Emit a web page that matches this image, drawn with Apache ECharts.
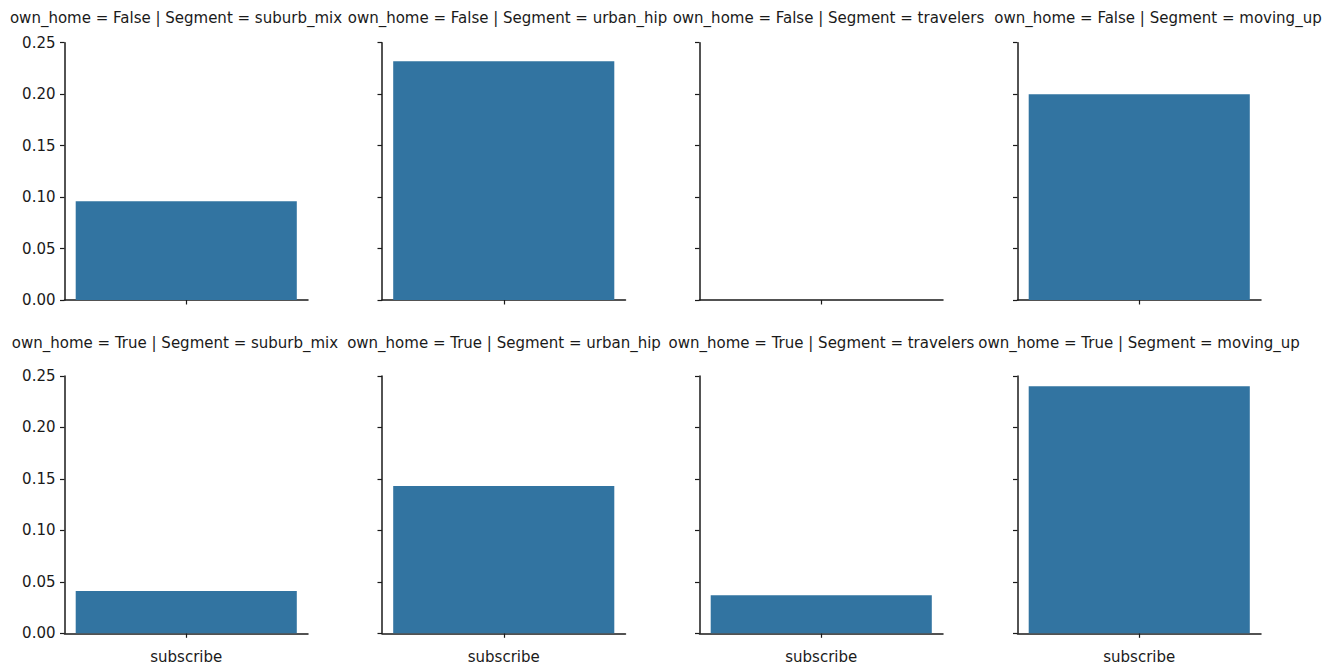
<!DOCTYPE html>
<html>
<head>
<meta charset="utf-8">
<script src="https://cdn.jsdelivr.net/npm/echarts@6/dist/echarts.min.js"></script>
<style>
  html, body { margin: 0; padding: 0; background: #fff; }
  #chart { width: 1337px; height: 665px; }
</style>
</head>
<body>
<div id="chart"></div>
<script>
// Facet rows and columns
const ownHome = ['False', 'True'];
const segments = ['suburb_mix', 'urban_hip', 'travelers', 'moving_up'];
const categories = ['subscribe'];

// Subscription rate per facet (row = own_home, column = Segment)
const rateFalse = [0.096, 0.232, 0.0, 0.200];
const rateTrue  = [0.041, 0.143, 0.037, 0.240];
const rates = [rateFalse, rateTrue];

// Y tick labels
const yTicks = ['0.00', '0.05', '0.10', '0.15', '0.20', '0.25'];

const FONT = 'DejaVu Sans';
const INK = '#1a1a1a';
const BAR = '#3274a1';

// Panel geometry
const colLeft = [64.5, 382, 699.5, 1017.5];
const panelW = 243.5;
const rowTop = [42.7, 376];
const panelH = 257.3;
// Facet title centres (long titles are nudged apart so they do not collide)
const titleX = [[176, 507.5, 828.5, 1158], [175, 504, 821.5, 1139]];
const titleY = [18, 343];

const grid = [], xAxis = [], yAxis = [], series = [], graphic = [];
let idx = 0;
for (let r = 0; r < ownHome.length; r++) {
  for (let c = 0; c < segments.length; c++) {
    grid.push({ left: colLeft[c], top: rowTop[r], width: panelW, height: panelH, containLabel: false });
    xAxis.push({
      type: 'category', gridIndex: idx, data: categories, boundaryGap: true,
      axisLine: { show: true, lineStyle: { color: INK, width: 1.5 } },
      axisTick: { show: true, alignWithLabel: true, length: 4.5, lineStyle: { color: INK, width: 1.2 } },
      axisLabel: { show: r === 1, fontFamily: FONT, fontSize: 15, color: INK, margin: 16 },
      splitLine: { show: false }
    });
    yAxis.push({
      type: 'value', gridIndex: idx, min: 0, max: 0.25, interval: 0.05,
      axisLine: { show: true, lineStyle: { color: INK, width: 1.5 } },
      axisTick: { show: true, length: 4.5, lineStyle: { color: INK, width: 1.2 } },
      axisLabel: {
        show: c === 0, fontFamily: FONT, fontSize: 15, color: INK, margin: 9,
        formatter: v => yTicks[Math.round(v / 0.05)]
      },
      splitLine: { show: false }
    });
    series.push({
      type: 'bar', xAxisIndex: idx, yAxisIndex: idx,
      data: [rates[r][c]], barWidth: '90.8%',
      itemStyle: { color: BAR }, silent: true
    });
    graphic.push({
      type: 'text',
      x: titleX[r][c],
      y: titleY[r],
      style: {
        text: 'own_home = ' + ownHome[r] + ' | Segment = ' + segments[c],
        fontFamily: FONT, fontSize: 15, fill: INK,
        textAlign: 'center', textVerticalAlign: 'middle'
      }
    });
    idx++;
  }
}

const chart = echarts.init(document.getElementById('chart'), null, { renderer: 'svg' });
chart.setOption({
  animation: false,
  backgroundColor: '#ffffff',
  grid, xAxis, yAxis, series, graphic
});
</script>
</body>
</html>
